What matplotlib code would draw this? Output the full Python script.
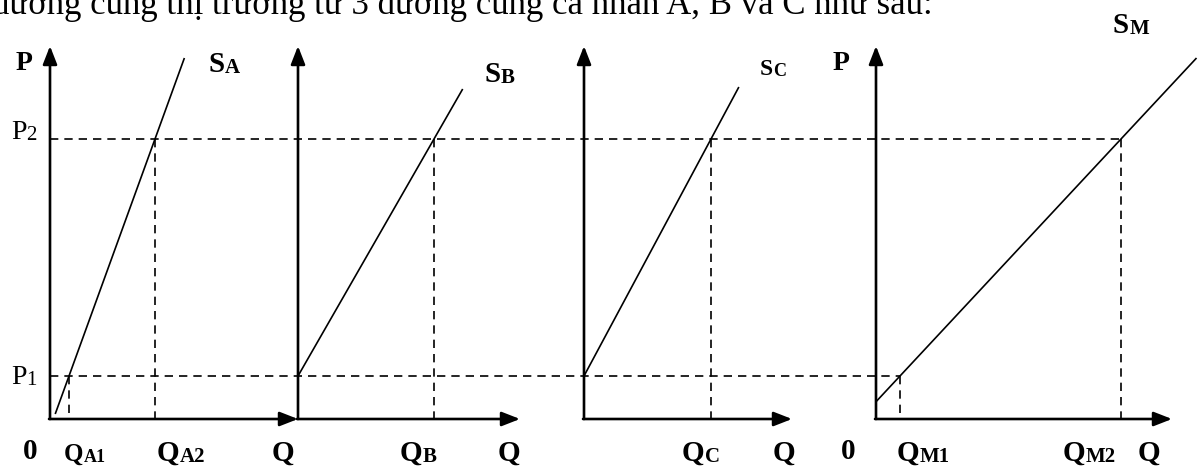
import matplotlib
matplotlib.use("Agg")
import matplotlib.pyplot as plt

# Price levels and axis height (1 unit = 10 px on both axes)
P1 = 4.3
P2 = 28.0
P_TOP = 37.3

# Supply curves for individuals A, B, C and the market M:
# quantity supplied at P1 and at P2, plus the price span of each drawn curve
panels = ["A", "B", "C", "M"]
q_at_p1 = [1.9, 0.0, 0.0, 2.4]
q_at_p2 = [10.5, 13.6, 12.7, 24.5]
curve_p_lo = [0.5, 4.3, 4.3, 1.7]
curve_p_hi = [36.1, 33.0, 33.2, 36.1]

# Which quantity each dashed drop marks: (panel index, price level)
drops = [(0, P1), (0, P2), (1, P2), (2, P2), (3, P1), (3, P2)]

# Text
heading = "đường cung thị trường từ 3 đường cung cá nhân A, B và C như sau:"
curve_names = [("S", "A"), ("S", "B"), ("S", "C"), ("S", "M")]
price_labels = [("P", "2"), ("P", "1")]
qty_labels = [("Q", "A1"), ("Q", "A2"), ("Q", ""), ("Q", "B"), ("Q", ""),
              ("Q", "C"), ("Q", ""), ("Q", "M1"), ("Q", "M2"), ("Q", "")]

# Layout of the four panels
origin_x = [5.0, 29.8, 58.4, 87.6]
q_axis_len = [24.8, 22.2, 20.8, 29.6]

W, H = 1199, 472
X_AXIS_PX = 419

plt.rcParams["font.family"] = ["Liberation Serif", "DejaVu Serif"]

fig = plt.figure(figsize=(W / 100, H / 100), dpi=100)
ax = fig.add_axes([0, 0, 1, 1])
ax.set_xlim(0, W / 10)
ax.set_ylim((X_AXIS_PX - H) / 10, X_AXIS_PX / 10)
ax.axis("off")


def px(x, y):
    """Pixel position (from top-left) to data coordinates."""
    return x / 10, (X_AXIS_PX - y) / 10


def q_of(i, p):
    return q_at_p1[i] + (p - P1) * (q_at_p2[i] - q_at_p1[i]) / (P2 - P1)


AXIS_LW = 1.9
LINE_LW = 1.2
DASH = (0, (5, 3.6))
arrow = dict(arrowstyle="-|>,head_length=1.1,head_width=0.43",
             lw=AXIS_LW, color="black", mutation_scale=10,
             shrinkA=0, shrinkB=0)

# Axes with arrowheads
for i in range(len(panels)):
    x0 = origin_x[i]
    ax.annotate("", xy=(x0, P_TOP), xytext=(x0, 0), arrowprops=arrow)
    ax.annotate("", xy=(x0 + q_axis_len[i], 0), xytext=(x0 - 0.1, 0),
                arrowprops=arrow)

# Supply curves
for i in range(len(panels)):
    x0 = origin_x[i]
    ps = [curve_p_lo[i], curve_p_hi[i]]
    ax.plot([x0 + q_of(i, p) for p in ps], ps, color="black",
            lw=LINE_LW, solid_capstyle="butt")

# Horizontal dashed price lines, running across to the market curve
ax.plot([origin_x[0], origin_x[3] + q_of(3, P1)], [P1, P1],
        color="black", lw=LINE_LW, ls=DASH)
ax.plot([origin_x[0], origin_x[3] + q_of(3, P2)], [P2, P2],
        color="black", lw=LINE_LW, ls=DASH)

# Vertical dashed drops to the quantity axes
for i, p in drops:
    xq = origin_x[i] + q_of(i, p)
    ax.plot([xq, xq], [p, 0], color="black", lw=LINE_LW, ls=DASH)


def label(xpx, ypx, main, sub, size, subsize, weight="bold", dy=0.0):
    t = ax.text(*px(xpx, ypx), main, fontsize=size, fontweight=weight,
                ha="left", va="baseline")
    if sub:
        ax.annotate(sub, xy=(1, 0), xycoords=t,
                    xytext=(0, 0.217 * size - 0.7 + dy),
                    textcoords="offset points",
                    fontsize=subsize, fontweight=weight,
                    ha="left", va="baseline")


# Heading, partly above the top edge
ax.text(*px(-8, 14), heading, fontsize=25, ha="left", va="baseline")

# Price axis names
label(16, 70, "P", "", 20, 0)
label(833, 70, "P", "", 20, 0)

# Curve names
curve_pos = [(209, 72, 21, 15), (485, 82, 21, 15), (760, 75, 17, 13),
             (1113, 33, 21, 15)]
for (m, s), (x, y, fs, ss) in zip(curve_names, curve_pos):
    label(x, y, m, s, fs, ss)

# Price levels
for (m, s), y in zip(price_labels, [139, 384]):
    label(11, y, m, s, 20, 15, weight="normal")

# Origins
label(23, 459, "0", "", 21, 0)
label(841, 459, "0", "", 21, 0)

# Quantity labels
qty_pos = [(64, 461, 18, 13), (157, 461, 21, 15), (272, 461, 21, 15),
           (400, 461, 21, 15), (498, 461, 21, 15), (682, 461, 21, 15),
           (773, 461, 21, 15), (897, 461, 21, 15), (1063, 461, 21, 15),
           (1138, 461, 21, 15)]
for (m, s), (x, y, fs, ss) in zip(qty_labels, qty_pos):
    label(x, y, m, s, fs, ss)

fig.savefig("out.png", dpi=100)
